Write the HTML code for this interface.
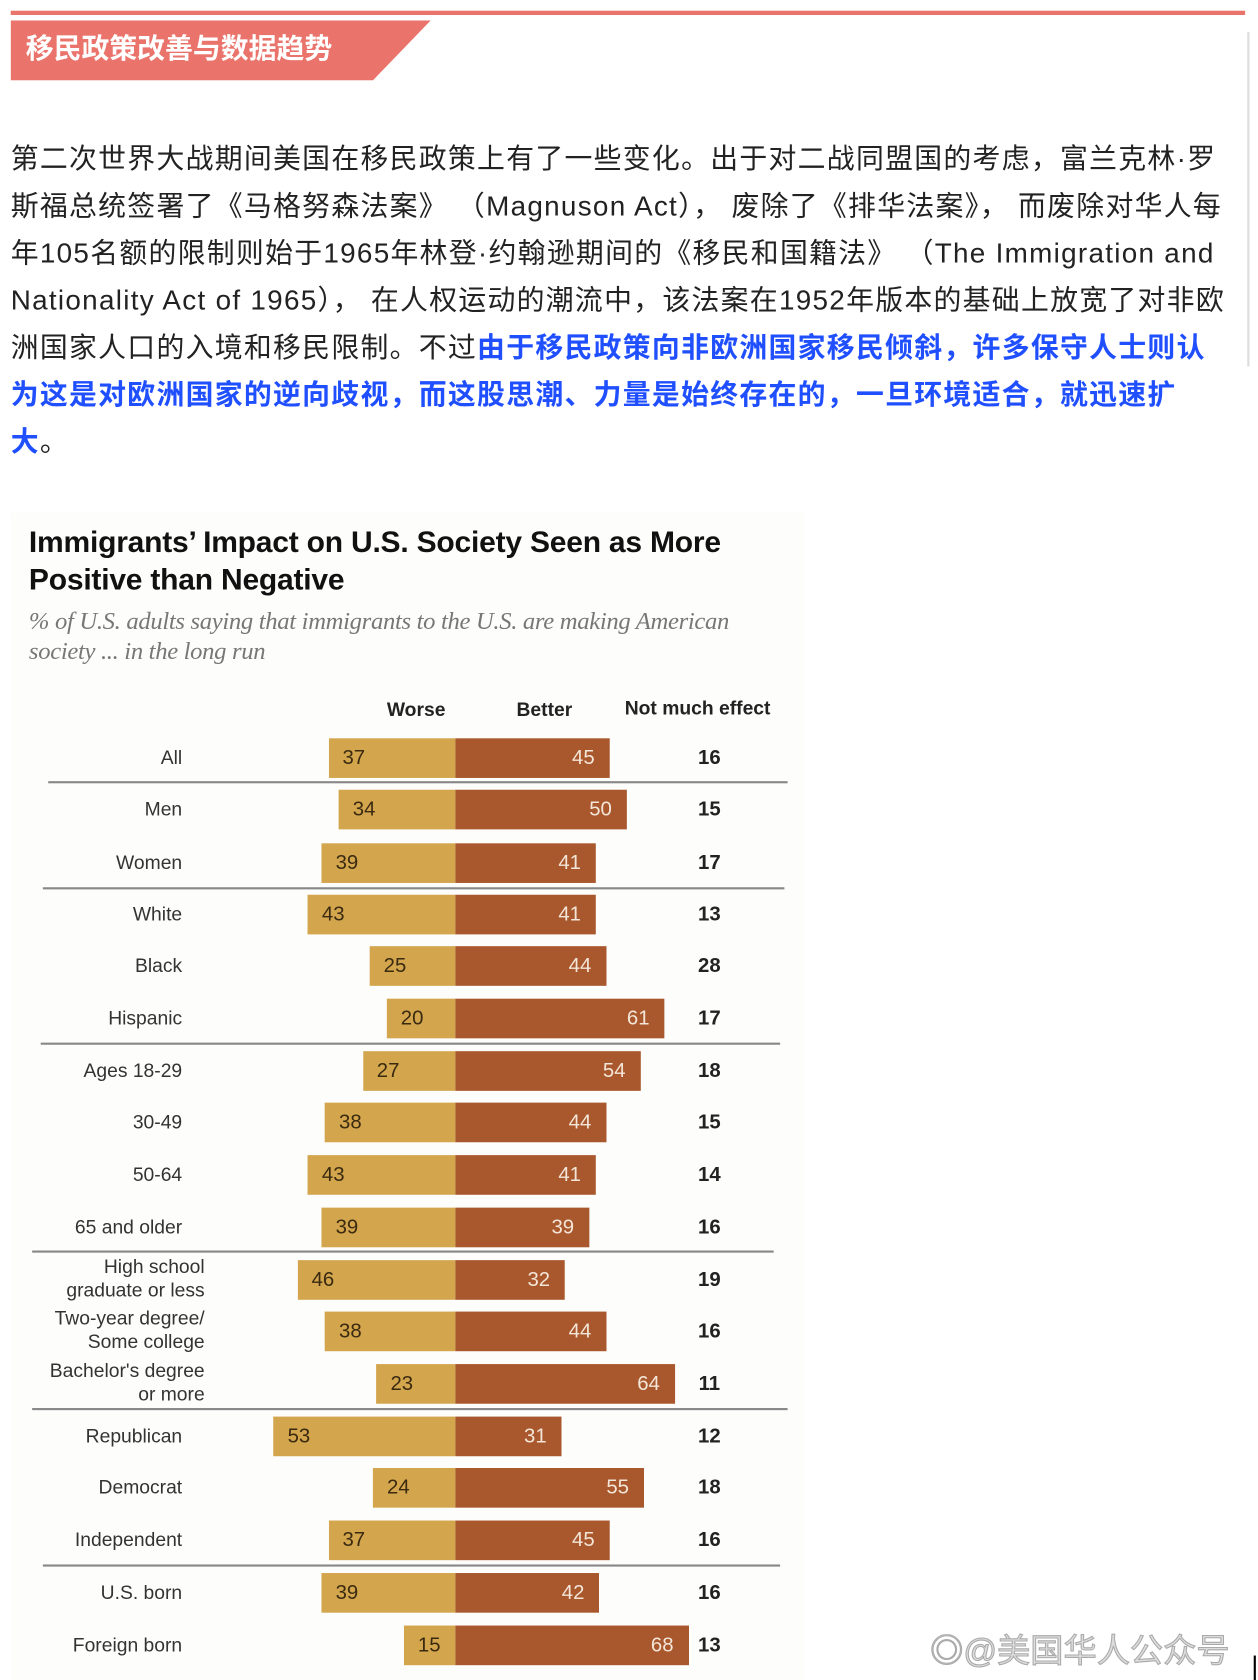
<!DOCTYPE html>
<html><head><meta charset="utf-8"><style>
html,body{margin:0;padding:0;background:#fff;}
#w{position:relative;width:1174px;height:1568px;transform:scale(1.07155);transform-origin:0 0;font-family:"Liberation Sans","Noto Sans CJK SC",sans-serif;overflow:hidden}
.a{position:absolute;white-space:nowrap}
.body{position:absolute;left:10px;top:126px;font-size:26px;line-height:44px;color:#222;white-space:nowrap;letter-spacing:1.2px}
.blue{color:#1f4fff;font-weight:bold}
.lab{position:absolute;right:1004px;font-size:18px;color:#333;text-align:right;line-height:22px}
.bw{position:absolute;height:37px;background:#d3a54d}
.bb{position:absolute;height:37px;background:#a9572c}
.nw{position:absolute;font-size:19px;color:#3a2a10;line-height:37px}
.nb{position:absolute;font-size:19px;color:#f3e6d8;line-height:37px;text-align:right}
.ne{position:absolute;left:640px;width:44px;text-align:center;font-size:19px;font-weight:bold;color:#222;line-height:37px}
.sep{position:absolute;height:2px;background:#888}
</style></head><body><div id="w">
<div class="a" style="left:10px;top:10px;width:1152px;height:4px;background:#ea746b"></div>
<svg class="a" style="left:10px;top:19px" width="392" height="56"><polygon points="0,0 392,0 338,56 0,56" fill="#ea746b"/></svg>
<div class="a" style="left:24px;top:27px;font-size:26px;font-weight:bold;color:#fff;line-height:36px">移民政策改善与数据趋势</div>
<div class="a" style="left:1164px;top:30px;width:2px;height:312px;background:#ddd"></div>
<div class="body">第二次世界大战期间美国在移民政策上有了一些变化。出于对二战同盟国的考虑，富兰克林·罗<br>斯福总统签署了《马格努森法案》 （Magnuson Act）， 废除了《排华法案》， 而废除对华人每<br>年105名额的限制则始于1965年林登·约翰逊期间的《移民和国籍法》 （The Immigration and<br>Nationality Act of 1965）， 在人权运动的潮流中，该法案在1952年版本的基础上放宽了对非欧<br>洲国家人口的入境和移民限制。不过<span class="blue">由于移民政策向非欧洲国家移民倾斜，许多保守人士则认</span><br><span class="blue">为这是对欧洲国家的逆向歧视，而这股思潮、力量是始终存在的，一旦环境适合，就迅速扩</span><br><span class="blue">大</span>。</div>
<div class="a" style="left:10px;top:478px;width:740px;height:1090px;background:#fdfdfc"></div>
<div class="a" style="left:27px;top:488px;font-size:28px;font-weight:bold;color:#111;line-height:35px;letter-spacing:-0.2px">Immigrants’ Impact on U.S. Society Seen as More<br>Positive than Negative</div>
<div class="a" style="left:27px;top:566px;font-size:23px;font-style:italic;color:#777;line-height:28px;font-family:'Liberation Serif',serif;letter-spacing:-0.3px">% of U.S. adults saying that immigrants to the U.S. are making American<br>society ... in the long run</div>
<div class="a" style="left:361px;top:652px;font-size:18px;font-weight:bold;color:#222">Worse</div>
<div class="a" style="left:482px;top:652px;font-size:18px;font-weight:bold;color:#222">Better</div>
<div class="a" style="left:583px;top:651px;font-size:18px;font-weight:bold;color:#222">Not much effect</div>
<div id="rows"></div>
<div class="sep" style="left:45px;top:729px;width:690px"></div>
<div class="sep" style="left:40px;top:828px;width:692px"></div>
<div class="sep" style="left:38px;top:973px;width:690px"></div>
<div class="sep" style="left:30px;top:1167px;width:692px"></div>
<div class="sep" style="left:30px;top:1314px;width:705px"></div>
<div class="sep" style="left:40px;top:1460px;width:688px"></div>
<div class="a" style="left:868px;top:1515px;font-size:31px;color:#ddd;-webkit-text-stroke:1px #aaa">◎@美国华人公众号</div>
<div class="a" style="left:1170px;top:1545px;width:2px;height:23px;background:#000"></div>
<script>
var d=[["All",37,45,16,707],["Men",34,50,15,755],["Women",39,41,17,805],["White",43,41,13,853],["Black",25,44,28,901],["Hispanic",20,61,17,950],["Ages 18-29",27,54,18,999],["30-49",38,44,15,1047],["50-64",43,41,14,1096],["65 and older",39,39,16,1145],["High school<br>graduate or less",46,32,19,1194],["Two-year degree/<br>Some college",38,44,16,1242],["Bachelor's degree<br>or more",23,64,11,1291],["Republican",53,31,12,1340],["Democrat",24,55,18,1388],["Independent",37,45,16,1437],["U.S. born",39,42,16,1486],["Foreign born",15,68,13,1535]];
var s=3.2,c=425,h="";
d.forEach(function(r){var t=r[4]-18.5,ml=r[0].indexOf("<br>")>0;
var rr=ml?983:1004;
h+='<div class="lab" style="right:'+rr+'px;top:'+(ml?r[4]-23:r[4]-11)+'px">'+r[0]+'</div>';
var wl=c-r[1]*s,bw=r[2]*s;
h+='<div class="bw" style="left:'+wl+'px;top:'+t+'px;width:'+(r[1]*s)+'px"></div>';
h+='<div class="bb" style="left:'+c+'px;top:'+t+'px;width:'+bw+'px"></div>';
h+='<div class="nw" style="left:'+(wl+13)+'px;top:'+t+'px">'+r[1]+'</div>';
h+='<div class="nb" style="left:'+(c+bw-60)+'px;width:46px;top:'+t+'px">'+r[2]+'</div>';
h+='<div class="ne" style="top:'+t+'px">'+r[3]+'</div>';});
document.getElementById("rows").innerHTML=h;
</script>
</div></body></html>
